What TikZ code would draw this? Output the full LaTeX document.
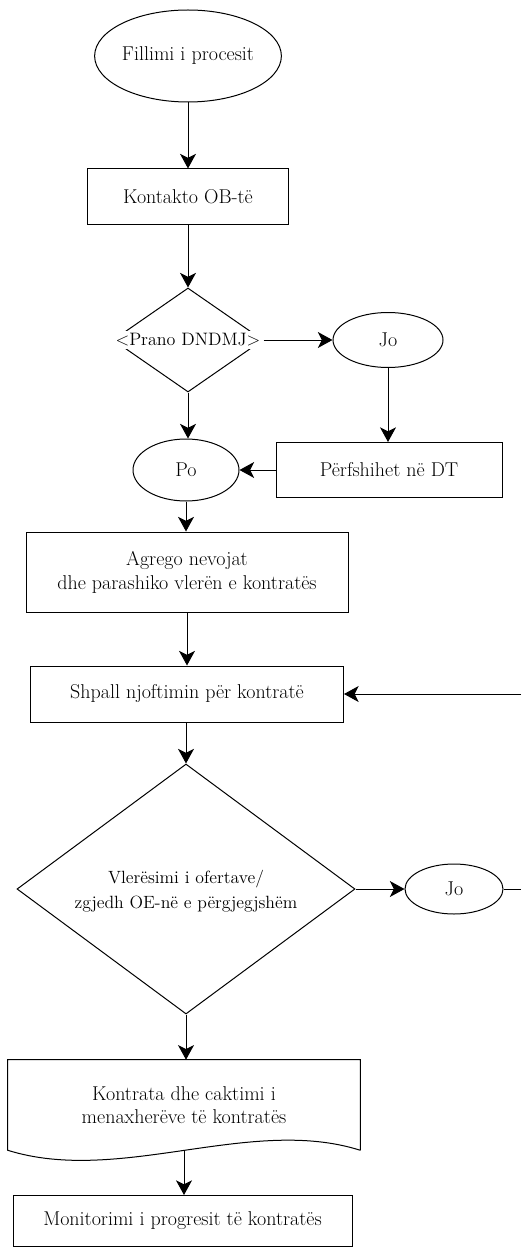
\documentclass[tikz,border=0pt]{standalone}
\usepackage{fontspec}
\usetikzlibrary{shapes.geometric,arrows.meta,calc}

\begin{document}
\begin{tikzpicture}[x=0.75pt,y=0.75pt,yscale=-1,xscale=1,
  every node/.style={font=\fontsize{15}{18}\selectfont},
  terminal/.style={ellipse,draw,line width=0.75pt,inner sep=0pt},
  process/.style={rectangle,draw,line width=0.75pt,inner sep=0pt,align=center},
  decision/.style={diamond,draw,line width=0.75pt,inner sep=0pt,align=center},
  arr/.style={line width=0.75pt,-{Stealth[length=11pt,width=12pt,inset=3pt]}},
  link/.style={line width=0.75pt}]
\useasboundingbox (0,0) rectangle (521,1248);

%Shape: Ellipse [id:start]
\node[terminal,minimum width=138.75pt,minimum height=69pt] (start) at (188,56) {Fillimi i procesit};
%Shape: Rectangle [id:kontakto]
\node[process,minimum width=150.75pt,minimum height=42pt] (kontakto) at (188,197) {Kontakto OB-të};
%Shape: Diamond [id:prano]
\node[decision,minimum width=112.5pt,minimum height=78pt] (prano) at (188,340) {};
% Text Node
\node[fill=white,inner xsep=3pt,inner ysep=2pt,font=\fontsize{13.5}{16}\selectfont] (pranotxt) at (prano) {<Prano DNDMJ>};
%Shape: Ellipse [id:jo1]
\node[terminal,minimum width=82.5pt,minimum height=41.25pt] (jo1) at (388,340) {Jo};
%Shape: Rectangle [id:perfshihet]
\node[process,minimum width=169.5pt,minimum height=41.25pt] (perfshihet) at (389,470) {Përfshihet në DT};
%Shape: Ellipse [id:po]
\node[terminal,minimum width=79.5pt,minimum height=46.5pt] (po) at (186,470) {Po};
%Shape: Rectangle [id:agrego]
\node[process,minimum width=241.5pt,minimum height=60pt] (agrego) at (187,572) {Agrego nevojat\\dhe parashiko vlerën e kontratës};
%Shape: Rectangle [id:shpall]
\node[process,minimum width=234.75pt,minimum height=42pt] (shpall) at (187,694) {Shpall njoftimin për kontratë};
%Shape: Diamond [id:vleresimi]
\node[decision,minimum width=253.5pt,minimum height=187.5pt] (vleresimi) at (186,889) {};
% Text Node
\node[font=\fontsize{13.3}{19}\selectfont,align=center] (vleresimitxt) at (186,891) {Vlerësimi i ofertave/\\zgjedh OE-në e përgjegjshëm};
%Shape: Ellipse [id:jo2]
\node[terminal,minimum width=73.5pt,minimum height=37.5pt] (jo2) at (454,889) {Jo};
%Shape: Document [id:kontrata]
\node[align=center,minimum width=264pt,minimum height=67.5pt,inner sep=0pt,font=\fontsize{15}{17.25}\selectfont] (kontrata) at (184,1105) {Kontrata dhe caktimi i\\menaxherëve të kontratës};
\draw[link] (kontrata.south east) -- (kontrata.north east) -- (kontrata.north west) -- (kontrata.south west)
  .. controls ($(kontrata.south west)+(112,35)$) and ($(kontrata.south east)+(-110,-35)$) .. (kontrata.south east);
%Shape: Rectangle [id:monitorimi]
\node[process,minimum width=254.25pt,minimum height=38.25pt] (monitorimi) at (182.5,1221) {Monitorimi i progresit të kontratës};

% edge of the picture
\coordinate (edgeA) at (521,889);
\coordinate (edgeB) at (521,694);

%Straight Lines
\draw[arr] (start) -- (kontakto);
\draw[arr] (kontakto) -- (prano);
\draw[arr] (prano.east) -- (jo1.west);
\draw[arr] (jo1) -- (jo1 |- perfshihet.north);
\draw[arr] (perfshihet.west) -- (perfshihet.west -| po.east);
\draw[arr] (prano.south) -- (prano.south |- po.north);
\draw[arr] (po) -- (po |- agrego.north);
\draw[arr] (agrego) -- (agrego |- shpall.north);
\draw[arr] (edgeB) -- (shpall.east);
\draw[arr] (shpall.south) -- (shpall.south -| vleresimi.north) -- (vleresimi.north);
\draw[arr] (vleresimi.east) -- (jo2.west);
\draw[link] (jo2.east) -- (edgeA);
\draw[arr] (vleresimi.south) -- (vleresimi.south |- kontrata.north);
\draw[arr] (kontrata.south) -- (kontrata.south |- monitorimi.north);
\end{tikzpicture}
\end{document}
